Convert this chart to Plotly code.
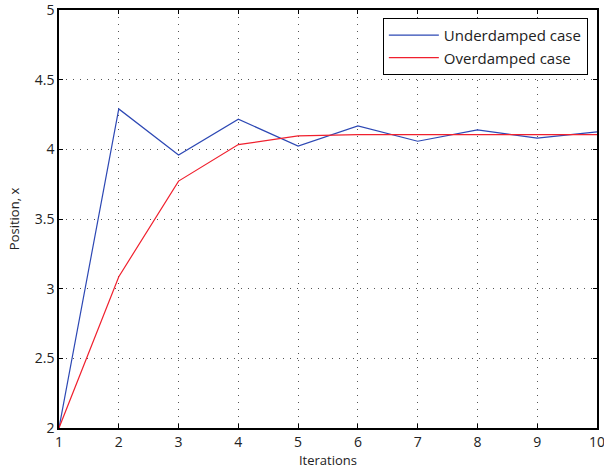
import plotly.graph_objects as go

iterations = [1, 2, 3, 4, 5, 6, 7, 8, 9, 10]
underdamped = [2.0, 4.29, 3.96, 4.216, 4.024, 4.168, 4.058, 4.14, 4.08, 4.125]
overdamped = [2.0, 3.086, 3.772, 4.034, 4.096, 4.105, 4.105, 4.105, 4.105, 4.105]
x_ticks = [1, 2, 3, 4, 5, 6, 7, 8, 9, 10]
y_ticks = [2, 2.5, 3, 3.5, 4, 4.5, 5]
y_tick_labels = ["2", "2.5", "3", "3.5", "4", "4.5", "5"]

FONT = "Open Sans, Lato, sans-serif"

fig = go.Figure()
fig.add_trace(go.Scatter(x=iterations, y=underdamped, mode="lines",
                         name="Underdamped case",
                         line=dict(color="#2d48b4", width=1.2)))
fig.add_trace(go.Scatter(x=iterations, y=overdamped, mode="lines",
                         name="Overdamped case",
                         line=dict(color="#f0202e", width=1.2)))

axis_common = dict(
    showline=True, linecolor="black", linewidth=1.5, mirror="ticks",
    ticks="inside", ticklen=4, tickcolor="black", tickwidth=1,
    showgrid=True, gridcolor="#555555", gridwidth=1, griddash="1px,6px",
    zeroline=False, automargin=False, ticklabeloverflow="allow",
    tickfont=dict(size=14, color="#222222", family=FONT),
)

fig.update_xaxes(range=[1, 10], tickvals=x_ticks,
                 title=dict(text="Iterations", font=dict(size=13, color="#222222", family=FONT), standoff=0),
                 **axis_common)
fig.update_yaxes(range=[2, 5], tickvals=y_ticks, ticktext=y_tick_labels,
                 title=dict(text="Position, x", font=dict(size=13, color="#222222", family=FONT), standoff=12),
                 **axis_common)

fig.update_layout(
    width=604, height=475,
    margin=dict(l=59, r=7, t=10, b=47),
    paper_bgcolor="white", plot_bgcolor="white",
    font=dict(family=FONT, color="#222222"),
    showlegend=True,
    legend=dict(x=0.983, y=0.981, xanchor="right", yanchor="top",
                bgcolor="white", bordercolor="black", borderwidth=1,
                font=dict(size=15, family=FONT, color="#222222"),
                tracegroupgap=0, itemwidth=50),
)

fig.write_html("out.html", config={"displayModeBar": False},
               post_script="document.body.style.margin='0';")
